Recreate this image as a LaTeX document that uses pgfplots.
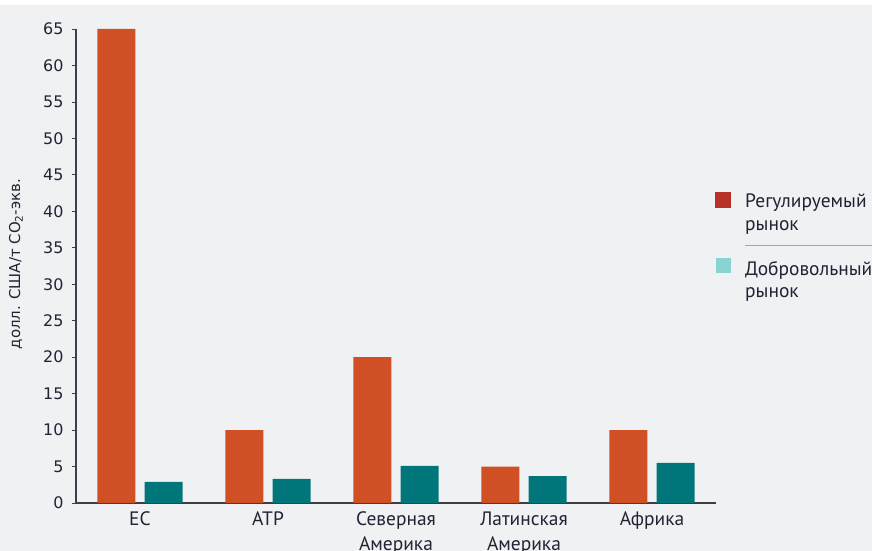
\documentclass[border=0pt]{standalone}
\usepackage{pgfplots}
\pgfplotsset{compat=1.18}
\usepackage{fontspec}
\setmainfont{PT Sans}
\newfontfamily\tickfont{DejaVu Sans}
\definecolor{bg}{HTML}{F0F1F3}
\definecolor{orng}{HTML}{D14F24}
\definecolor{teal}{HTML}{01767A}
\definecolor{legred}{HTML}{B83129}
\definecolor{legcyan}{HTML}{88D3D3}
\definecolor{txt}{HTML}{1E2433}
\definecolor{axc}{HTML}{3A3F4A}
\begin{document}
\begin{tikzpicture}
\useasboundingbox (0bp,0bp) rectangle (872bp,551bp);
\fill[bg] (0bp,0bp) rectangle (872bp,546bp);
\fill[white] (0bp,546bp) rectangle (872bp,551bp);
\begin{axis}[
  at={(76bp,48bp)}, anchor=south west,
  scale only axis, width=640bp, height=474bp,
  xmin=-0.5, xmax=4.5, ymin=0, ymax=65,
  axis line style={axc, line width=1.2pt},
  axis x line=bottom, axis y line=left,
  x axis line style={-}, y axis line style={-},
  ytick={0,5,...,65},
  xtick={0,1,2,3,4},
  xticklabels={ЕС,АТР,Северная\\Америка,Латинская\\Америка,Африка},
  x tick label style={align=center, font=\fontsize{19.5}{25}\selectfont, text=txt, yshift=-1bp},
  major x tick style={draw=none},
  y tick label style={font=\tickfont\fontsize{16}{18}\selectfont, text=txt, xshift=-5bp},
  /pgf/number format/assume math mode=true,
  ytick style={axc, line width=0.8pt},
  tick align=outside, major tick length=4bp,
  clip=false,
]
\addplot[ybar, bar width=0.297, bar shift=-0.184, fill=orng, draw=none] coordinates {(0,65) (1,10) (2,20) (3,5) (4,10)};
\addplot[ybar, bar width=0.297, bar shift=0.184, fill=teal, draw=none] coordinates {(0,2.9) (1,3.3) (2,5.1) (3,3.7) (4,5.5)};
\end{axis}
\node[rotate=90, text=txt, font=\tickfont\fontsize{15}{17}\selectfont, inner sep=0pt] at (16bp,287bp) {долл. США/т CO\textsubscript{2}-экв.};
\fill[legred] (715bp,343bp) rectangle (731bp,359bp);
\fill[legcyan] (716bp,278bp) rectangle (731bp,293bp);
\draw[gray!70, line width=0.8pt] (745bp,306bp) -- (872bp,306bp);
\begin{scope}[every node/.style={anchor=base west, inner sep=0pt, text=txt, font=\fontsize{19.5}{21}\selectfont}]
\node at (745bp,343bp) {Регулируемый};
\node at (745bp,320bp) {рынок};
\node at (745bp,275bp) {Добровольный};
\node at (745bp,253bp) {рынок};
\end{scope}
\end{tikzpicture}
\end{document}
